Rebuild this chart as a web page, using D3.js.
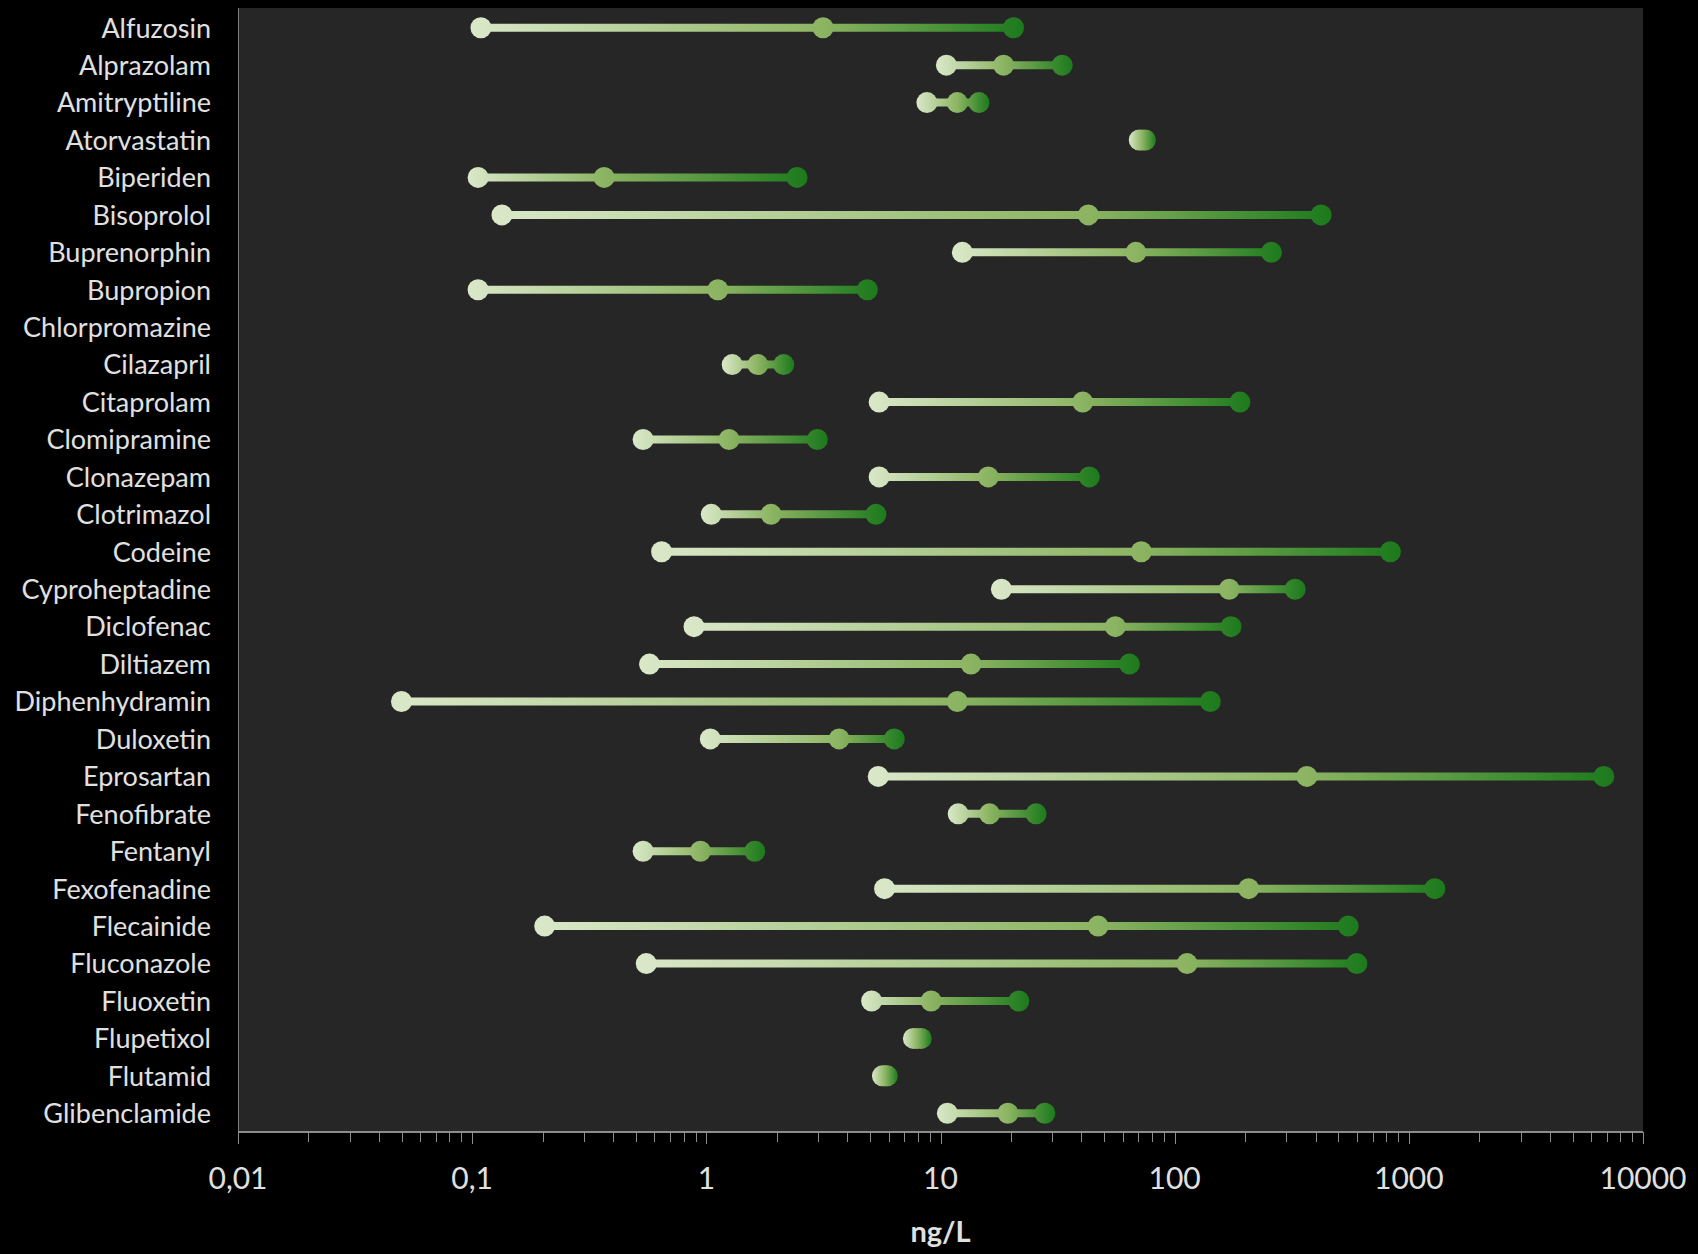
<!DOCTYPE html>
<html>
<head>
<meta charset="utf-8">
<script src="https://cdn.jsdelivr.net/npm/d3@7"></script>
<style>
  html, body { margin: 0; padding: 0; background: #000; }
  svg { display: block; }
</style>
</head>
<body>
<svg id="chart" width="1698" height="1254"></svg>
<script>
// values in ng/L (null = no data)
var drugs = ["Alfuzosin", "Alprazolam", "Amitryptiline", "Atorvastatin", "Biperiden",
  "Bisoprolol", "Buprenorphin", "Bupropion", "Chlorpromazine", "Cilazapril",
  "Citaprolam", "Clomipramine", "Clonazepam", "Clotrimazol", "Codeine",
  "Cyproheptadine", "Diclofenac", "Diltiazem", "Diphenhydramin", "Duloxetin",
  "Eprosartan", "Fenofibrate", "Fentanyl", "Fexofenadine", "Flecainide",
  "Fluconazole", "Fluoxetin", "Flupetixol", "Flutamid", "Glibenclamide"];

var minVals = [0.109, 10.6, 8.75, 70.6, 0.106,
  0.134, 12.4, 0.106, null, 1.29,
  5.47, 0.537, 5.47, 1.05, 0.644,
  18.2, 0.886, 0.572, 0.0499, 1.04,
  5.42, 11.9, 0.537, 5.77, 0.204,
  0.554, 5.08, 7.66, 5.65, 10.7];

var medianVals = [3.15, 18.6, 11.8, 72.8, 0.366,
  42.8, 68.3, 1.12, null, 1.66,
  40.5, 1.25, 16.0, 1.89, 72.0,
  171, 55.8, 13.5, 11.8, 3.69,
  367, 16.2, 0.944, 207, 47.1,
  113, 9.12, 7.95, 5.8, 19.4];

var maxVals = [20.5, 33.1, 14.6, 75.0, 2.44,
  422, 259, 4.87, null, 2.14,
  190, 2.98, 43.2, 5.30, 834,
  327, 174, 64.1, 142, 6.35,
  6800, 25.6, 1.61, 1291, 551,
  600, 21.6, 8.28, 5.93, 27.9];

var tickValues = [0.01, 0.1, 1, 10, 100, 1000, 10000];
var tickLabels = ["0,01", "0,1", "1", "10", "100", "1000", "10000"];

var svg = d3.select("#chart");
var width = 1698, height = 1254;
var margin = {top: 9, right: 55, bottom: 122, left: 238};
var fontFamily = "Lato, 'Open Sans', sans-serif";
var radius = 10.5;

var x = d3.scaleLog()
    .domain([0.01, 10000])
    .range([margin.left, width - margin.right]);

var y = d3.scaleBand()
    .domain(drugs)
    .range([margin.top, height - margin.bottom]);

var lightGreen = "#dae8c9",
    midGreen = "#8cb462",
    darkGreen = "#1c7a1c";

// plot area
svg.append("rect")
    .attr("x", margin.left)
    .attr("y", margin.top - 1)
    .attr("width", width - margin.left - margin.right)
    .attr("height", height - margin.top - margin.bottom + 1)
    .attr("fill", "#262626");

svg.append("line")
    .attr("x1", margin.left + 0.5).attr("x2", margin.left + 0.5)
    .attr("y1", margin.top - 1).attr("y2", height - margin.bottom)
    .attr("stroke", "#7f7f7f")
    .attr("stroke-width", 1);

// x axis
var axisY = height - margin.bottom;
var minorTicks = [];
for (var e = -2; e < 4; e++) {
  for (var k = 2; k < 10; k++) minorTicks.push(k * Math.pow(10, e));
}

var axis = svg.append("g").attr("class", "x-axis");

axis.selectAll("line.minor")
  .data(minorTicks)
  .enter().append("line")
    .attr("class", "minor")
    .attr("x1", d => Math.round(x(d)) + 0.5)
    .attr("x2", d => Math.round(x(d)) + 0.5)
    .attr("y1", axisY)
    .attr("y2", axisY + 10)
    .attr("stroke", "#8c8c8c")
    .attr("stroke-width", 1);

axis.selectAll("line.major")
  .data(tickValues)
  .enter().append("line")
    .attr("class", "major")
    .attr("x1", d => Math.round(x(d)) + 0.5)
    .attr("x2", d => Math.round(x(d)) + 0.5)
    .attr("y1", axisY)
    .attr("y2", axisY + 12)
    .attr("stroke", "#8c8c8c")
    .attr("stroke-width", 1);

axis.append("line")
    .attr("x1", margin.left).attr("x2", width - margin.right)
    .attr("y1", axisY).attr("y2", axisY)
    .attr("stroke", "#8c8c8c")
    .attr("stroke-width", 2);

axis.selectAll("text")
  .data(tickValues)
  .enter().append("text")
    .attr("x", d => x(d))
    .attr("y", axisY + 49)
    .attr("text-anchor", "middle")
    .attr("dominant-baseline", "middle")
    .attr("font-family", fontFamily)
    .attr("font-size", 30)
    .attr("fill", "#e0e0e0")
    .text((d, i) => tickLabels[i]);

svg.append("text")
    .attr("x", (margin.left + width - margin.right) / 2)
    .attr("y", 1235)
    .attr("text-anchor", "middle")
    .attr("dominant-baseline", "middle")
    .attr("font-family", fontFamily)
    .attr("font-weight", "bold")
    .attr("font-size", 29)
    .attr("fill", "#e0e0e0")
    .text("ng/L");

// category labels
svg.append("g")
  .selectAll("text")
  .data(drugs)
  .enter().append("text")
    .attr("x", 211)
    .attr("y", d => y(d) + y.bandwidth() / 2 + 3)
    .attr("text-anchor", "end")
    .attr("dominant-baseline", "middle")
    .attr("font-family", fontFamily)
    .attr("font-size", 27)
    .attr("fill", "#e0e0e0")
    .text(d => d);

// rows
var rows = drugs.map((d, i) => ({
  name: d, min: minVals[i], median: medianVals[i], max: maxVals[i], idx: i
})).filter(r => r.min != null);

// one gradient per row, spanning from the left edge of the min marker
// to the right edge of the max marker
var defs = svg.append("defs");
rows.forEach(function(r) {
  var x1 = x(r.min) - radius, x2 = x(r.max) + radius;
  var frac = (x(r.median) - x1) / (x2 - x1);
  var g = defs.append("linearGradient")
      .attr("id", "grad" + r.idx)
      .attr("gradientUnits", "userSpaceOnUse")
      .attr("x1", x1).attr("x2", x2)
      .attr("y1", 0).attr("y2", 0);
  g.append("stop").attr("offset", 0).attr("stop-color", lightGreen);
  g.append("stop").attr("offset", frac).attr("stop-color", midGreen);
  g.append("stop").attr("offset", 1).attr("stop-color", darkGreen);
});

var rowG = svg.append("g")
  .selectAll("g")
  .data(rows)
  .enter().append("g")
    .attr("transform", r => "translate(0," + (y(r.name) + y.bandwidth() / 2) + ")");

rowG.append("line")
    .attr("x1", r => x(r.min))
    .attr("x2", r => x(r.max))
    .attr("y1", 0).attr("y2", 0)
    .attr("stroke", r => "url(#grad" + r.idx + ")")
    .attr("stroke-width", 8);

["min", "median", "max"].forEach(function(key) {
  rowG.append("circle")
      .attr("cx", r => x(r[key]))
      .attr("cy", 0)
      .attr("r", radius)
      .attr("fill", r => "url(#grad" + r.idx + ")");
});
</script>
</body>
</html>
